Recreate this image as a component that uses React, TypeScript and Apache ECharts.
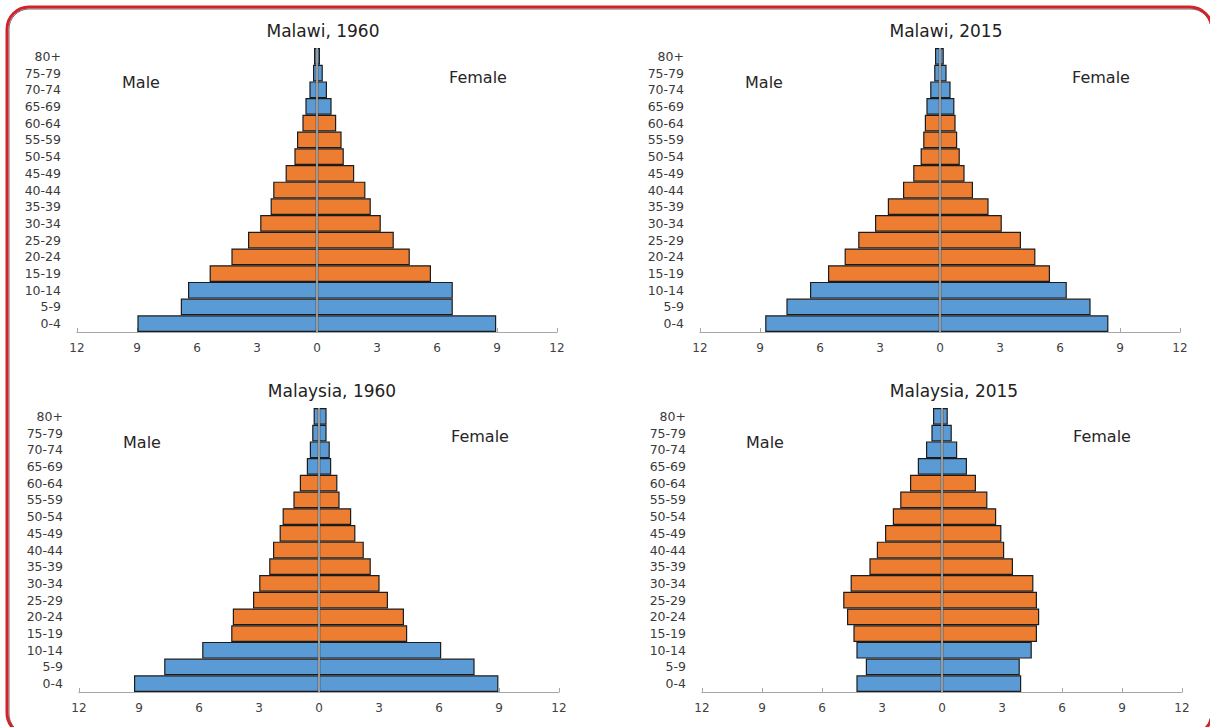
import React, { useEffect, useRef } from "react";
import * as echarts from "echarts";

const ageGroups = ["0-4", "5-9", "10-14", "15-19", "20-24", "25-29", "30-34", "35-39", "40-44", "45-49", "50-54", "55-59", "60-64", "65-69", "70-74", "75-79", "80+"];

const panelTitles = ["Malawi, 1960", "Malawi, 2015", "Malaysia, 1960", "Malaysia, 2015"];

const malawi1960Male = [8.98, 6.81, 6.45, 5.37, 4.28, 3.45, 2.84, 2.32, 2.19, 1.57, 1.13, 1.0, 0.73, 0.58, 0.38, 0.2, 0.15];
const malawi1960Female = [8.96, 6.79, 6.79, 5.7, 4.64, 3.84, 3.19, 2.69, 2.42, 1.86, 1.34, 1.23, 0.96, 0.73, 0.5, 0.29, 0.15];

const malawi2015Male = [8.74, 7.68, 6.5, 5.6, 4.77, 4.09, 3.25, 2.61, 1.85, 1.34, 0.97, 0.84, 0.76, 0.68, 0.49, 0.29, 0.25];
const malawi2015Female = [8.42, 7.53, 6.34, 5.5, 4.77, 4.05, 3.09, 2.43, 1.65, 1.23, 0.99, 0.86, 0.78, 0.72, 0.53, 0.33, 0.19];

const malaysia1960Male = [9.25, 7.74, 5.84, 4.39, 4.31, 3.3, 2.99, 2.49, 2.3, 1.97, 1.82, 1.28, 0.96, 0.61, 0.46, 0.34, 0.27];
const malaysia1960Female = [8.97, 7.78, 6.11, 4.41, 4.25, 3.45, 3.03, 2.59, 2.24, 1.82, 1.61, 1.03, 0.92, 0.61, 0.54, 0.38, 0.38];

const malaysia2015Male = [4.28, 3.81, 4.28, 4.43, 4.75, 4.94, 4.57, 3.63, 3.26, 2.85, 2.46, 2.09, 1.6, 1.21, 0.8, 0.53, 0.45];
const malaysia2015Female = [3.96, 3.89, 4.49, 4.75, 4.86, 4.75, 4.57, 3.55, 3.11, 2.97, 2.71, 2.27, 1.7, 1.25, 0.76, 0.49, 0.29];

const panelMale = [malawi1960Male, malawi2015Male, malaysia1960Male, malaysia2015Male];
const panelFemale = [malawi1960Female, malawi2015Female, malaysia1960Female, malaysia2015Female];

const BLUE = "#5b9bd5";
const ORANGE = "#ed7d31";
const FONT = "DejaVu Sans";

const grids = [
  { left: 77, top: 48, width: 480, height: 284 },
  { left: 700, top: 48, width: 480, height: 284 },
  { left: 79, top: 408, width: 480, height: 284 },
  { left: 702, top: 408, width: 480, height: 284 },
];
const titlePos = [
  [323, 31],
  [946, 31],
  [332, 391],
  [954, 391],
];
const malePos = [
  [141, 82],
  [764, 82],
  [142, 442],
  [765, 442],
];
const femalePos = [
  [478, 77],
  [1101, 77],
  [480, 436],
  [1102, 436],
];

function colorFor(i: number) {
  return i <= 2 || i >= 13 ? BLUE : ORANGE;
}

export default function App() {
  const ref = useRef<HTMLDivElement>(null);
  useEffect(() => {
    if (!ref.current) return;
    const chart = echarts.init(ref.current, undefined, { renderer: "svg" });
    const xAxis: any[] = [];
    const yAxis: any[] = [];
    const series: any[] = [];
    const graphic: any[] = [];
    grids.forEach((g, k) => {
      xAxis.push({
        type: "value",
        gridIndex: k,
        min: -12,
        max: 12,
        interval: 3,
        axisLine: { show: true, onZero: false, lineStyle: { color: "#a6a6a6", width: 1.2 } },
        axisTick: { show: true, inside: true, length: 4, lineStyle: { color: "#a6a6a6" } },
        splitLine: { show: false },
        axisLabel: {
          formatter: (v: number) => String(Math.abs(v)),
          fontFamily: FONT,
          fontSize: 12,
          color: "#404040",
          margin: 10,
        },
      });
      yAxis.push({
        type: "category",
        gridIndex: k,
        data: ageGroups,
        axisLine: { show: false, onZero: false },
        axisTick: { show: false },
        axisLabel: {
          interval: 0,
          fontFamily: FONT,
          fontSize: 12.5,
          color: "#3a3a3a",
          margin: 16,
        },
      });
      series.push({
        type: "bar",
        name: "Male",
        xAxisIndex: k,
        yAxisIndex: k,
        barGap: "-100%",
        barCategoryGap: "0%",
        data: panelMale[k].map((v, i) => ({
          value: -v,
          itemStyle: { color: colorFor(i) },
        })),
        itemStyle: { borderColor: "#1c1c1c", borderWidth: 1.2 },
      });
      series.push({
        type: "bar",
        name: "Female",
        xAxisIndex: k,
        yAxisIndex: k,
        barGap: "-100%",
        barCategoryGap: "0%",
        data: panelFemale[k].map((v, i) => ({
          value: v,
          itemStyle: { color: colorFor(i) },
        })),
        itemStyle: { borderColor: "#1c1c1c", borderWidth: 1.2 },
        markLine: {
          silent: true,
          symbol: "none",
          z: 10,
          label: { show: false },
          lineStyle: { color: "#9a9a9a", width: 2, type: "solid" },
          data: [{ xAxis: 0 }],
        },
      });
      graphic.push({
        type: "text",
        x: titlePos[k][0],
        y: titlePos[k][1],
        style: {
          text: panelTitles[k],
          fontFamily: FONT,
          fontSize: 17,
          fill: "#222222",
          textAlign: "center",
          textVerticalAlign: "middle",
        },
      });
      graphic.push({
        type: "text",
        x: malePos[k][0],
        y: malePos[k][1],
        style: {
          text: "Male",
          fontFamily: FONT,
          fontSize: 16,
          fill: "#262626",
          textAlign: "center",
          textVerticalAlign: "middle",
        },
      });
      graphic.push({
        type: "text",
        x: femalePos[k][0],
        y: femalePos[k][1],
        style: {
          text: "Female",
          fontFamily: FONT,
          fontSize: 16,
          fill: "#262626",
          textAlign: "center",
          textVerticalAlign: "middle",
        },
      });
    });
    graphic.push({
      type: "rect",
      shape: { x: 9, y: 9, width: 1202, height: 725, r: 20 },
      style: { fill: "none", stroke: "#6b6b6b", lineWidth: 1 },
      z: 100,
    });
    graphic.push({
      type: "rect",
      shape: { x: 7, y: 7, width: 1205, height: 728, r: 22 },
      style: { fill: "none", stroke: "#d2232a", lineWidth: 3 },
      z: 101,
    });
    chart.setOption({
      animation: false,
      backgroundColor: "#ffffff",
      grid: grids.map((g) => ({ ...g, containLabel: false })),
      xAxis,
      yAxis,
      series,
      graphic,
    });
    return () => chart.dispose();
  }, []);
  return (
    <div
      ref={ref}
      style={{ position: "fixed", left: 0, top: 0, width: 1210, height: 727 }}
    />
  );
}
